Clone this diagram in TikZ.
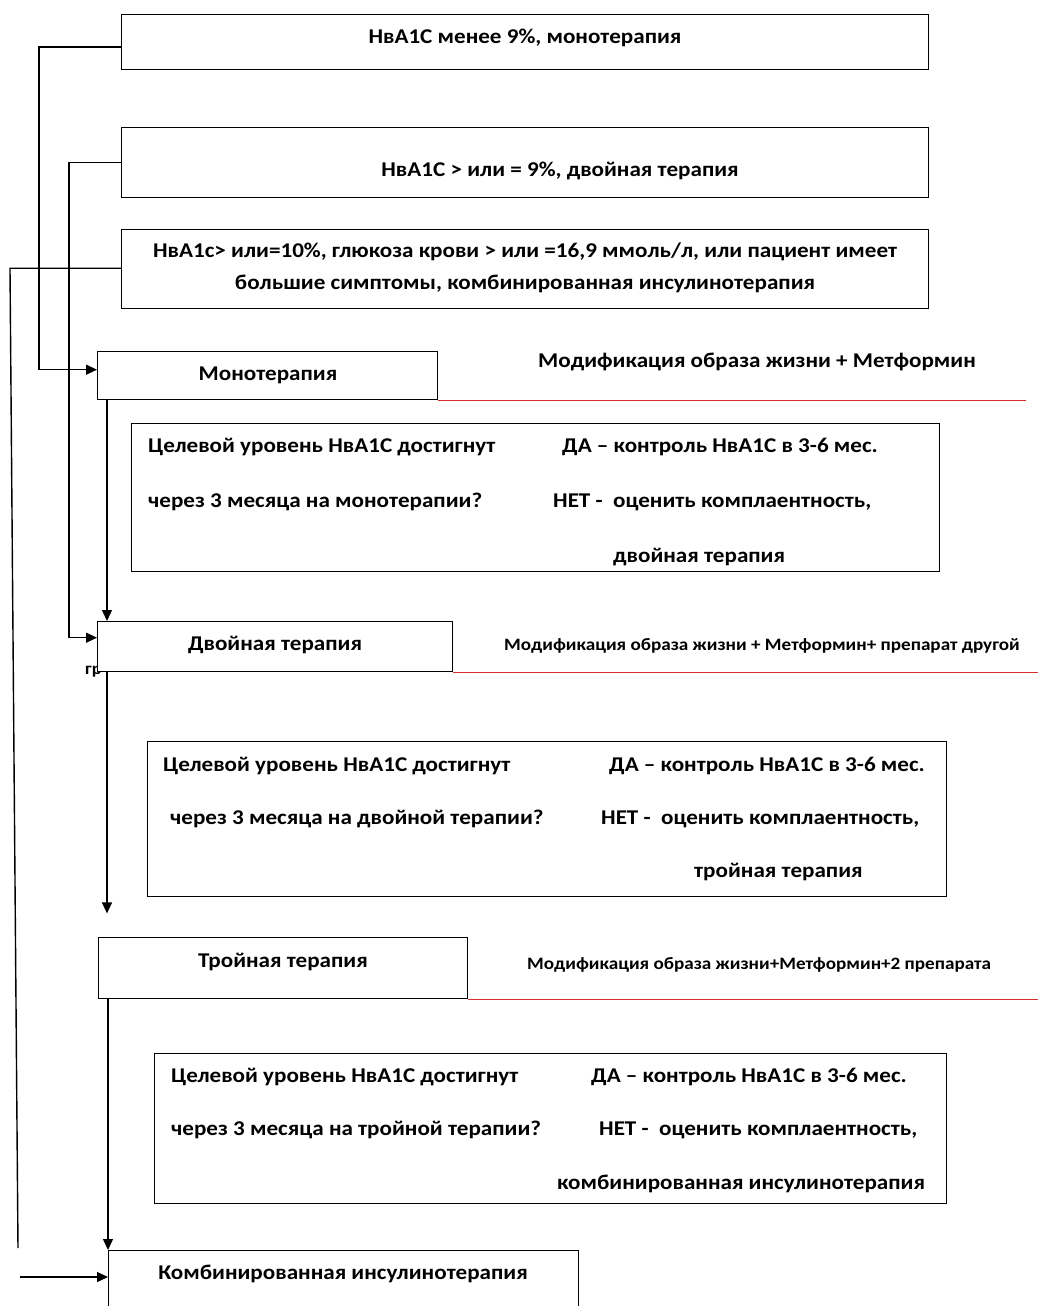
\documentclass[tikz,border=0pt]{standalone}
\usepackage{fontspec}
\setmainfont[FakeStretch=1.1]{Carlito}
\usetikzlibrary{arrows.meta}
\definecolor{redline}{RGB}{214,48,48}
\tikzset{
  box/.style={draw, line width=1.4pt, fill=white, inner sep=0pt, anchor=north west},
  lbl/.style={inner sep=0pt, font=\bfseries\fontsize{21}{24}\selectfont},
  big/.style={inner sep=0pt, font=\bfseries\fontsize{21}{24}\selectfont},
  dec/.style={inner sep=0pt, anchor=west, font=\bfseries\fontsize{21}{24}\selectfont},
  small/.style={inner sep=0pt, anchor=west, font=\bfseries\fontsize{17.4}{20}\selectfont},
  conn/.style={line width=1.4pt},
  arr/.style={line width=1.4pt, -{Triangle[length=11pt,width=10pt]}},
  redl/.style={draw=redline, line width=1.7pt}
}
\begin{document}
\begin{tikzpicture}[x=1pt,y=-1pt]
\useasboundingbox (0,0) rectangle (1038,1306);

% top condition boxes
\node[box, minimum width=807, minimum height=55] (b1) at (121,14) {};
\node[lbl] (t1) at (525,38) {НвА1С менее 9\%, монотерапия};
\node[box, minimum width=807, minimum height=70] (b2) at (121,127) {};
\node[lbl] (t2) at (560,171) {НвА1С > или = 9\%, двойная терапия};
\node[box, minimum width=807, minimum height=79] (b3) at (121,229) {};
\node[lbl] (t3a) at (525,252) {НвА1с> или=10\%, глюкоза крови > или =16,9 ммоль/л, или пациент имеет};
\node[lbl] (t3b) at (525,284) {большие симптомы, комбинированная инсулинотерапия};

% monotherapy
\node[box, minimum width=340, minimum height=48] (mono) at (97,351) {};
\node[lbl] (monot) at (268,375) {Монотерапия};
\draw[redl] (mono.south east) -- ++(588,0) coordinate (r1);
\node[big] (mod1) at (757,362) {Модификация образа жизни + Метформин};

\node[box, minimum width=808, minimum height=148] (d1) at (131,423) {};
\node[dec] (d1a) at (148,447) {Целевой уровень НвА1С достигнут};
\node[dec] (d1b) at (562,447) {ДА – контроль НвА1С в 3-6 мес.};
\node[dec] (d1c) at (148,502) {через 3 месяца на монотерапии?};
\node[dec] (d1d) at (553,502) {НЕТ -\ \ оценить комплаентность,};
\node[dec] (d1e) at (613,557) {двойная терапия};

% dual therapy
\node[small, font=\bfseries\fontsize{17}{19}\selectfont] (gr) at (85,672) {гр};
\node[box, minimum width=355, minimum height=50] (dual) at (97,621) {};
\node[lbl] (dualt) at (275,645) {Двойная терапия};
\draw[redl] (dual.south east) -- ++(590,0) coordinate (r2);
\node[small] (mod2) at (504,646) {Модификация образа жизни + Метформин+ препарат другой};

\node[box, minimum width=799, minimum height=155] (d2) at (147,741) {};
\node[dec] (d2a) at (163,766) {Целевой уровень НвА1С достигнут};
\node[dec] (d2b) at (609,766) {ДА – контроль НвА1С в 3-6 мес.};
\node[dec] (d2c) at (170,819) {через 3 месяца на двойной терапии?};
\node[dec] (d2d) at (601,819) {НЕТ -\ \ оценить комплаентность,};
\node[dec] (d2e) at (694,872) {тройная терапия};

% triple therapy
\node[box, minimum width=369, minimum height=61] (triple) at (98,937) {};
\node[lbl] (triplet) at (283,962) {Тройная терапия};
\draw[redl] (triple.south east) -- ++(575,0) coordinate (r3);
\node[small] (mod3) at (527,965) {Модификация образа жизни+Метформин+2 препарата};

\node[box, minimum width=792, minimum height=150] (d3) at (154,1053) {};
\node[dec] (d3a) at (171,1077) {Целевой уровень НвА1С достигнут};
\node[dec] (d3b) at (591,1077) {ДА – контроль НвА1С в 3-6 мес.};
\node[dec] (d3c) at (171,1130) {через 3 месяца на тройной терапии?};
\node[dec] (d3d) at (599,1130) {НЕТ -\ \ оценить комплаентность,};
\node[dec] (d3e) at (557,1184) {комбинированная инсулинотерапия};

% combined insulin therapy
\node[box, minimum width=470, minimum height=70] (combo) at (108,1250) {};
\node[lbl] (combot) at (343,1274) {Комбинированная инсулинотерапия};

% connectors
\draw[arr] ([yshift=-5pt]b1.west) -- ++(-82,0) |- ([yshift=6pt]mono.west);
\draw[arr] (b2.west) -- ++(-52,0) |- ([yshift=9pt]dual.west);
\coordinate (c3b) at (18,1248);
\draw[conn] ([yshift=1pt]b3.west) -- ++(-111,0) -- (c3b);
\coordinate (c3e) at (20,1277);
\draw[arr] (c3e) -- (combo.west |- c3e);

\draw[arr] ([xshift=10pt]mono.south west) -- ([xshift=10pt]mono.south west |- dual.north);
\draw[arr] ([xshift=10pt]dual.south west) -- ++(0,241) coordinate (dend);
\draw[arr] ([xshift=10pt]triple.south west) -- (combo.north west);
\end{tikzpicture}
\end{document}
